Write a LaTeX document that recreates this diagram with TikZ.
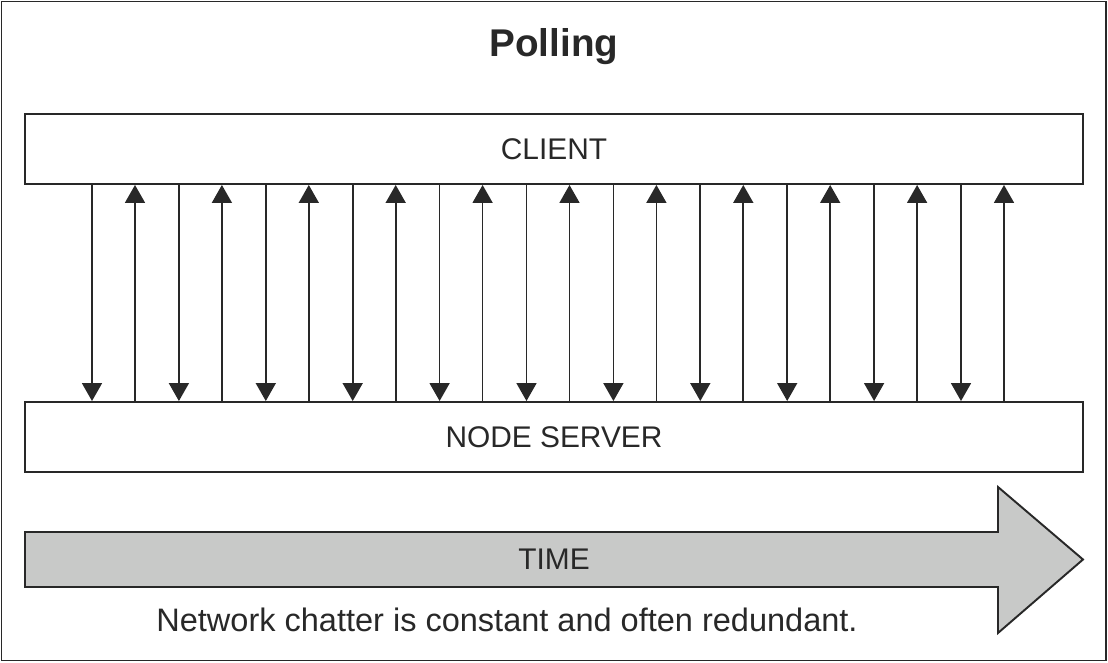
\documentclass[tikz,border=0pt]{standalone}
\usepackage{fontspec}
\setmainfont{Liberation Sans}
\usetikzlibrary{arrows.meta}
\definecolor{ink}{HTML}{282828}
\definecolor{timegray}{HTML}{C8C9C8}
\begin{document}
\begin{tikzpicture}
% Styles
\tikzset{box/.style={draw=ink,line width=1.1pt,minimum width=21.16cm,minimum height=1.4cm,inner sep=0pt,font=\fontsize{17}{20}\selectfont,text=ink},
  poll arrow/.style={draw=ink,line width=1pt,-{Triangle[width=0.4cm,length=0.36cm]}}}

\useasboundingbox (0,0) rectangle (22.16,13.24);
\draw[ink,line width=1.1pt] (0.03,0.03) rectangle (22.12,13.21);

  \node[font=\bfseries\fontsize{22}{26}\selectfont,text=ink] (title) at (11.08,12.3) {Polling};
  \node[box] (client) at (11.08,10.26) {CLIENT};
  \node[box] (server) at (11.08,4.5) {NODE SERVER};

% Requests and responses
\foreach \i in {0,...,10} {
  \coordinate (d\i) at (1.84+1.738*\i,0);
  \coordinate (u\i) at (2.70+1.738*\i,0);
  \draw[poll arrow] (client.south -| d\i) -- (server.north -| d\i);
  \draw[poll arrow] (server.north -| u\i) -- (client.south -| u\i);
}

% Time
\draw[ink,line width=1.1pt,fill=timegray] (0.5,1.5) -- (19.96,1.5) -- (19.96,0.58) -- (21.66,2.05)
  -- (19.96,3.5) -- (19.96,2.6) -- (0.5,2.6) -- cycle;
  \node[font=\fontsize{17}{20}\selectfont,text=ink] (time) at (11.08,2.05) {TIME};
  \node[font=\fontsize{18.5}{22}\selectfont,text=ink] (note) at (10.14,0.84) {Network chatter is constant and often redundant.};

\end{tikzpicture}
\end{document}
